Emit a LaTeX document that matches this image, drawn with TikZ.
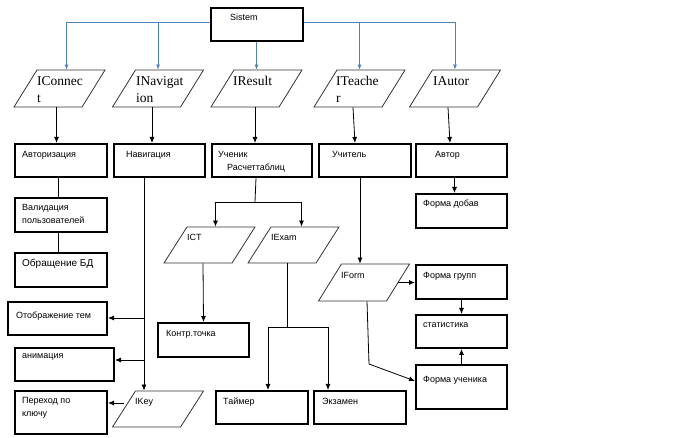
\documentclass[tikz,border=0pt]{standalone}
\usepackage{fontspec}
\newfontfamily\arl{Liberation Sans}
\newfontfamily\tms{Liberation Serif}
\usetikzlibrary{shapes.geometric,arrows.meta}
\definecolor{wordblue}{HTML}{4F81BD}
\tikzset{
  blk/.style={draw, line width=2pt, anchor=north west, inner sep=0pt},
  par/.style={draw=black!80, line width=0.8pt, trapezium, trapezium left angle=63,
    trapezium right angle=117, trapezium stretches=true,
    minimum width=91pt, minimum height=37pt, inner sep=2pt},
  txt/.style={anchor=base west, inner sep=0pt, align=left,
    font=\arl\fontsize{9}{13.5}\selectfont},
  ptxt/.style={anchor=base west, inner sep=0pt, align=left,
    font=\tms\fontsize{13.5}{17}\selectfont},
  arr/.style={-{Latex[length=6pt,width=5pt]}, line width=0.8pt},
  lin/.style={line width=0.8pt},
  blu/.style={-{Latex[length=5pt,width=4pt]}, line width=0.8pt, draw=wordblue},
}
\begin{document}
\begin{tikzpicture}[x=1pt,y=-1pt]
\useasboundingbox (0,0) rectangle (683,438);
% top
\node[blk, minimum width=92pt, minimum height=33pt] (sis) at (210,7) {};
\node[txt] (sis-t) at (230,21) {Sistem};
% interfaces
\node[par] (conn) at (59.5,88.5) {};
\node[par] (inav) at (158,88.5) {};
\node[par] (ires) at (256.5,88.5) {};
\node[par] (itch) at (359.5,88.5) {};
\node[par] (iaut) at (455,88.5) {};
\node[ptxt] (conn-t) at (37,103) {IConnec\\t};% base is the last line
\node[ptxt] (inav-t) at (136,103) {INavigat\\ion};
\node[ptxt] (ires-t) at (233,86) {IResult};
\node[ptxt] (itch-t) at (336,103) {ITeache\\r};
\node[ptxt] (iaut-t) at (433,86) {IAutor};
% second row
\node[blk, minimum width=92pt, minimum height=33pt] (avt) at (14,143) {};
\node[blk, minimum width=91pt, minimum height=33pt] (nav) at (113,143) {};
\node[blk, minimum width=100pt, minimum height=33pt] (uch) at (211,143) {};
\node[blk, minimum width=92pt, minimum height=33pt] (tch) at (318,143) {};
\node[blk, minimum width=91pt, minimum height=33pt] (aut) at (415,143) {};
\node[txt] (avt-t) at (22,158) {Авторизация};
\node[txt] (nav-t) at (126,158) {Навигация};
\node[txt] (uch-t) at (218,171) {Ученик\\\hspace*{9pt}Расчеттаблиц};
\node[txt] (tch-t) at (332,158) {Учитель};
\node[txt] (aut-t) at (435,158) {Автор};
% left column
\node[blk, minimum width=92pt, minimum height=34pt] (val) at (14,197) {};
\node[blk, minimum width=92pt, minimum height=34pt] (obr) at (14,252) {};
\node[blk, minimum width=99pt, minimum height=33pt] (otb) at (7,301) {};
\node[blk, minimum width=99pt, minimum height=33pt] (anm) at (14,347) {};
\node[blk, minimum width=92pt, minimum height=43pt] (per) at (14,390) {};
\node[par, minimum height=36pt] (ikey) at (158,409) {};
\node[txt] (val-t) at (22,224) {Валидация\\пользователей};
\node[txt, font=\arl\fontsize{10}{12}\selectfont] (obr-t) at (22,267) {Обращение БД};
\node[txt] (otb-t) at (16,319) {Отображение тем};
\node[txt] (anm-t) at (22,359) {анимация};
\node[txt] (per-t) at (22,417) {Переход по\\ключу};
\node[txt] (ikey-t) at (135,404) {IKey};
% result part
\node[par, minimum height=36pt] (ict) at (209.5,245) {};
\node[par, minimum height=36pt] (iexam) at (293.5,245) {};
\node[blk, minimum width=91pt, minimum height=34pt] (kt) at (157,322) {};
\node[blk, minimum width=92pt, minimum height=33pt] (tmr) at (215,390) {};
\node[blk, minimum width=92pt, minimum height=33pt] (exm) at (313,390) {};
\node[txt] (ict-t) at (187,241) {ICT};
\node[txt] (iexam-t) at (271,241) {IExam};
\node[txt] (kt-t) at (166,337) {Контр.точка};
\node[txt] (tmr-t) at (223,404) {Таймер};
\node[txt] (exm-t) at (322,404) {Экзамен};
% teacher and autor part
\node[par] (iform) at (364,282.5) {};
\node[blk, minimum width=91pt, minimum height=34pt] (fdb) at (415,193) {};
\node[blk, minimum width=91pt, minimum height=34pt] (fgr) at (415,264) {};
\node[blk, minimum width=91pt, minimum height=33pt] (stat) at (415,314) {};
\node[blk, minimum width=91pt, minimum height=44pt] (fuc) at (415,364) {};
\node[txt] (iform-t) at (341,279) {IForm};
\node[txt] (fdb-t) at (423,207) {Форма добав};
\node[txt] (fgr-t) at (423,279) {Форма групп};
\node[txt] (stat-t) at (423,328) {статистика};
\node[txt] (fuc-t) at (423,383) {Форма ученика};

% Sistem to the interfaces
\draw[blu] ([yshift=2.5pt]sis.west) -| ([xshift=7pt]conn.north);
\draw[blu] ([yshift=2.5pt]sis.west) -| (inav.north);
\draw[blu] (sis.south -| ires.north) -- (ires.north);
\draw[blu] ([yshift=2.5pt]sis.east) -| (itch.north);
\draw[blu] ([yshift=2.5pt]sis.east) -| (iaut.north);
% interfaces to the second row
\draw[arr] ([xshift=-3pt]conn.south) -- ([xshift=-3pt]conn.south |- avt.north);
\draw[arr] ([xshift=-6pt]inav.south) -- ([xshift=-6pt]inav.south |- nav.north);
\draw[arr] ([xshift=-1.5pt]ires.south) -- ([xshift=-1.5pt]ires.south |- uch.north);
\draw[arr] ([xshift=-6.5pt]itch.south) -- ([xshift=-4.5pt]itch.south |- tch.north);
\draw[arr] ([xshift=-7pt]iaut.south) -- ([xshift=-5pt]iaut.south |- aut.north);
% connect and navigation
\draw[lin] ([xshift=-3pt]avt.south) -- ([xshift=-3pt]val.north);
\draw[lin] ([xshift=-3pt]val.south) -- ([xshift=-3pt]obr.north);
\draw[arr] ([xshift=-15.5pt]nav.south) -- ([xshift=-14pt]ikey.north);
\coordinate (b1) at (144,318);
\coordinate (b2) at (144,360);
\draw[arr] (b1) -- (b1 -| otb.east);
\draw[arr] (b2) -- (b2 -| anm.east);
\draw[arr] ([yshift=6pt]ikey.west) -- ([yshift=6pt]ikey.west -| per.east);
% result
\coordinate (rj) at (255,202);
\draw[lin] ([xshift=-6pt]uch.south) -- (rj);
\draw[arr] (rj) -| ([xshift=6pt]ict.north);
\draw[arr] (rj) -| ([xshift=8pt]iexam.north);
\draw[arr] ([xshift=-6.5pt]ict.south) -- (kt.north);
\coordinate (ej) at (287,327);
\draw[lin] ([xshift=-6.5pt]iexam.south) -- (ej);
\draw[arr] (ej) -| ([xshift=6pt]tmr.north);
\draw[arr] (ej) -| ([xshift=-32pt]exm.north);
% teacher
\draw[arr] ([xshift=-5pt]tch.south) -- ([xshift=-5pt]tch.south |- iform.north);
\draw[arr] (iform.east) -- (iform.east -| fgr.west);
\coordinate (fk) at (369,364);
\draw[arr] ([xshift=3pt]iform.south) -- (fk) -- ([yshift=6pt]fuc.west);
\draw[arr] (fgr.south) -- (stat.north);
\draw[arr] (fuc.north) -- (stat.south);
% autor
\draw[arr] ([xshift=-7pt]aut.south) -- ([xshift=-7pt]fdb.north);
\end{tikzpicture}
\end{document}
